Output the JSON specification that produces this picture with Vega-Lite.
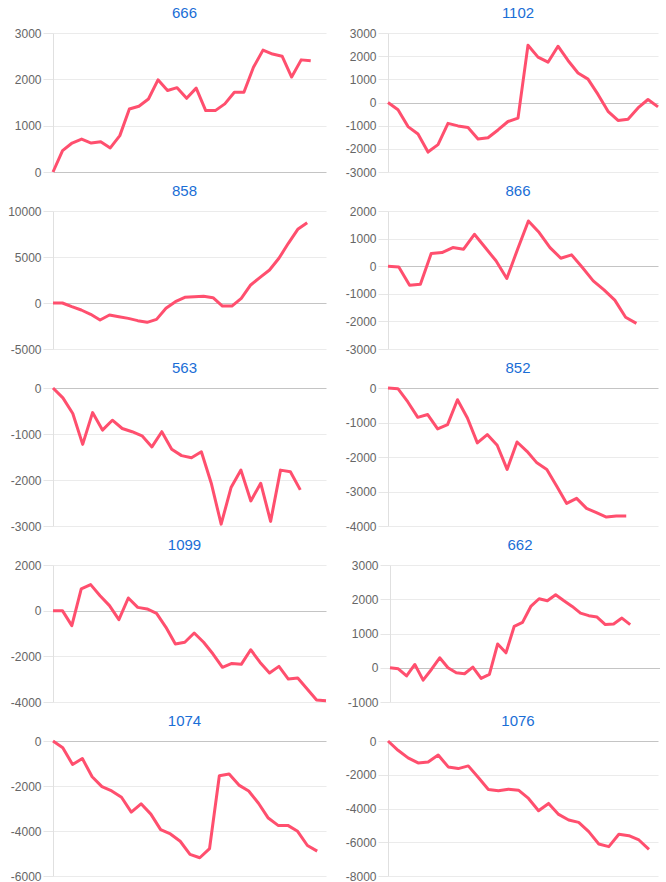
{
  "$schema": "https://vega.github.io/schema/vega-lite/v6.json",
  "padding": {"left": 7, "top": 6, "right": 0, "bottom": 0},
  "background": "white",
  "datasets": {
    "p666": [{"i":0,"v":0},{"i":1,"v":460},{"i":2,"v":625},{"i":3,"v":710},{"i":4,"v":625},{"i":5,"v":655},{"i":6,"v":520},{"i":7,"v":785},{"i":8,"v":1360},{"i":9,"v":1420},{"i":10,"v":1575},{"i":11,"v":1990},{"i":12,"v":1760},{"i":13,"v":1820},{"i":14,"v":1590},{"i":15,"v":1810},{"i":16,"v":1325},{"i":17,"v":1325},{"i":18,"v":1470},{"i":19,"v":1720},{"i":20,"v":1720},{"i":21,"v":2260},{"i":22,"v":2630},{"i":23,"v":2545},{"i":24,"v":2500},{"i":25,"v":2050},{"i":26,"v":2420},{"i":27,"v":2400}],
    "p1102": [{"i":0,"v":0},{"i":1,"v":-310},{"i":2,"v":-1040},{"i":3,"v":-1360},{"i":4,"v":-2140},{"i":5,"v":-1820},{"i":6,"v":-900},{"i":7,"v":-1010},{"i":8,"v":-1080},{"i":9,"v":-1580},{"i":10,"v":-1520},{"i":11,"v":-1185},{"i":12,"v":-820},{"i":13,"v":-675},{"i":14,"v":2475},{"i":15,"v":1960},{"i":16,"v":1740},{"i":17,"v":2430},{"i":18,"v":1815},{"i":19,"v":1275},{"i":20,"v":1010},{"i":21,"v":350},{"i":22,"v":-380},{"i":23,"v":-775},{"i":24,"v":-720},{"i":25,"v":-235},{"i":26,"v":130},{"i":27,"v":-190}],
    "p858": [{"i":0,"v":0},{"i":1,"v":0},{"i":2,"v":-400},{"i":3,"v":-760},{"i":4,"v":-1230},{"i":5,"v":-1850},{"i":6,"v":-1300},{"i":7,"v":-1490},{"i":8,"v":-1670},{"i":9,"v":-1920},{"i":10,"v":-2100},{"i":11,"v":-1780},{"i":12,"v":-580},{"i":13,"v":145},{"i":14,"v":620},{"i":15,"v":690},{"i":16,"v":725},{"i":17,"v":580},{"i":18,"v":-330},{"i":19,"v":-330},{"i":20,"v":510},{"i":21,"v":1960},{"i":22,"v":2790},{"i":23,"v":3590},{"i":24,"v":4860},{"i":25,"v":6490},{"i":26,"v":8010},{"i":27,"v":8730}],
    "p866": [{"i":0,"v":0},{"i":1,"v":-25},{"i":2,"v":-690},{"i":3,"v":-650},{"i":4,"v":460},{"i":5,"v":495},{"i":6,"v":675},{"i":7,"v":615},{"i":8,"v":1155},{"i":9,"v":675},{"i":10,"v":195},{"i":11,"v":-445},{"i":12,"v":615},{"i":13,"v":1640},{"i":14,"v":1220},{"i":15,"v":675},{"i":16,"v":290},{"i":17,"v":410},{"i":18,"v":-50},{"i":19,"v":-530},{"i":20,"v":-860},{"i":21,"v":-1230},{"i":22,"v":-1850},{"i":23,"v":-2070}],
    "p563": [{"i":0,"v":0},{"i":1,"v":-215},{"i":2,"v":-555},{"i":3,"v":-1225},{"i":4,"v":-535},{"i":5,"v":-915},{"i":6,"v":-700},{"i":7,"v":-880},{"i":8,"v":-950},{"i":9,"v":-1040},{"i":10,"v":-1280},{"i":11,"v":-950},{"i":12,"v":-1330},{"i":13,"v":-1470},{"i":14,"v":-1515},{"i":15,"v":-1385},{"i":16,"v":-2070},{"i":17,"v":-2960},{"i":18,"v":-2165},{"i":19,"v":-1785},{"i":20,"v":-2455},{"i":21,"v":-2070},{"i":22,"v":-2900},{"i":23,"v":-1785},{"i":24,"v":-1820},{"i":25,"v":-2215}],
    "p852": [{"i":0,"v":0},{"i":1,"v":-20},{"i":2,"v":-405},{"i":3,"v":-850},{"i":4,"v":-770},{"i":5,"v":-1185},{"i":6,"v":-1060},{"i":7,"v":-340},{"i":8,"v":-870},{"i":9,"v":-1590},{"i":10,"v":-1350},{"i":11,"v":-1660},{"i":12,"v":-2360},{"i":13,"v":-1565},{"i":14,"v":-1835},{"i":15,"v":-2170},{"i":16,"v":-2360},{"i":17,"v":-2845},{"i":18,"v":-3345},{"i":19,"v":-3200},{"i":20,"v":-3490},{"i":21,"v":-3615},{"i":22,"v":-3740},{"i":23,"v":-3710},{"i":24,"v":-3710}],
    "p1099": [{"i":0,"v":0},{"i":1,"v":0},{"i":2,"v":-655},{"i":3,"v":950},{"i":4,"v":1140},{"i":5,"v":655},{"i":6,"v":220},{"i":7,"v":-395},{"i":8,"v":555},{"i":9,"v":145},{"i":10,"v":75},{"i":11,"v":-115},{"i":12,"v":-730},{"i":13,"v":-1460},{"i":14,"v":-1385},{"i":15,"v":-980},{"i":16,"v":-1385},{"i":17,"v":-1900},{"i":18,"v":-2480},{"i":19,"v":-2310},{"i":20,"v":-2350},{"i":21,"v":-1710},{"i":22,"v":-2265},{"i":23,"v":-2730},{"i":24,"v":-2440},{"i":25,"v":-2995},{"i":26,"v":-2950},{"i":27,"v":-3430},{"i":28,"v":-3910},{"i":29,"v":-3940}],
    "p662": [{"i":0,"v":0},{"i":1,"v":-30},{"i":2,"v":-240},{"i":3,"v":95},{"i":4,"v":-360},{"i":5,"v":-50},{"i":6,"v":290},{"i":7,"v":0},{"i":8,"v":-145},{"i":9,"v":-175},{"i":10,"v":20},{"i":11,"v":-310},{"i":12,"v":-195},{"i":13,"v":695},{"i":14,"v":435},{"i":15,"v":1210},{"i":16,"v":1325},{"i":17,"v":1790},{"i":18,"v":2015},{"i":19,"v":1955},{"i":20,"v":2130},{"i":21,"v":1955},{"i":22,"v":1790},{"i":23,"v":1595},{"i":24,"v":1520},{"i":25,"v":1480},{"i":26,"v":1260},{"i":27,"v":1280},{"i":28,"v":1450},{"i":29,"v":1260}],
    "p1074": [{"i":0,"v":0},{"i":1,"v":-295},{"i":2,"v":-1045},{"i":3,"v":-780},{"i":4,"v":-1590},{"i":5,"v":-2030},{"i":6,"v":-2220},{"i":7,"v":-2500},{"i":8,"v":-3160},{"i":9,"v":-2790},{"i":10,"v":-3250},{"i":11,"v":-3940},{"i":12,"v":-4130},{"i":13,"v":-4455},{"i":14,"v":-5040},{"i":15,"v":-5190},{"i":16,"v":-4780},{"i":17,"v":-1545},{"i":18,"v":-1470},{"i":19,"v":-1960},{"i":20,"v":-2220},{"i":21,"v":-2765},{"i":22,"v":-3425},{"i":23,"v":-3750},{"i":24,"v":-3750},{"i":25,"v":-4015},{"i":26,"v":-4645},{"i":27,"v":-4895}],
    "p1076": [{"i":0,"v":0},{"i":1,"v":-550},{"i":2,"v":-1000},{"i":3,"v":-1300},{"i":4,"v":-1240},{"i":5,"v":-830},{"i":6,"v":-1535},{"i":7,"v":-1635},{"i":8,"v":-1475},{"i":9,"v":-2165},{"i":10,"v":-2875},{"i":11,"v":-2950},{"i":12,"v":-2855},{"i":13,"v":-2915},{"i":14,"v":-3405},{"i":15,"v":-4135},{"i":16,"v":-3700},{"i":17,"v":-4350},{"i":18,"v":-4685},{"i":19,"v":-4820},{"i":20,"v":-5370},{"i":21,"v":-6100},{"i":22,"v":-6260},{"i":23,"v":-5530},{"i":24,"v":-5610},{"i":25,"v":-5865},{"i":26,"v":-6420}]
  },
  "config": {
    "view": {"stroke": null},
    "axis": {"labelColor": "#666666", "labelFont": "Liberation Sans", "labelFontSize": 12, "labelPadding": 2, "tickSize": 10, "tickColor": "#e6e6e6", "domainColor": "#e0e0e0", "labelFlush": false, "labelOverlap": false},
    "title": {"fontSize": 15, "font": "Liberation Sans", "fontWeight": "normal", "color": "#1a6ed6", "frame": "group", "dx": -5, "offset": 6},
    "line": {"color": "#ff4f6e", "strokeWidth": 3, "strokeJoin": "round"}
  },
  "vconcat": [
    {"hconcat": [
      {"title": "666", "width": 273, "height": 139, "data": {"name": "p666"}, "mark": {"type": "line"},
       "encoding": {"x": {"field": "i", "type": "quantitative", "axis": null, "scale": {"domain": [0, 28.6], "nice": false, "zero": false}},
                    "y": {"field": "v", "type": "quantitative", "scale": {"domain": [0, 3000], "nice": false, "zero": false}, "axis": {"title": null, "values": [0, 1000, 2000, 3000], "labelExpr": "'' + datum.value", "gridColor": {"condition": {"test": "datum.value === 0", "value": "#c4c4c4"}, "value": "#ebebeb"}}}}},
      {"title": "1102", "width": 270, "height": 139, "data": {"name": "p1102"}, "mark": {"type": "line"},
       "encoding": {"x": {"field": "i", "type": "quantitative", "axis": null, "scale": {"domain": [0, 27], "nice": false, "zero": false}},
                    "y": {"field": "v", "type": "quantitative", "scale": {"domain": [-3000, 3000], "nice": false, "zero": false}, "axis": {"title": null, "values": [-3000, -2000, -1000, 0, 1000, 2000, 3000], "labelExpr": "'' + datum.value", "gridColor": {"condition": {"test": "datum.value === 0", "value": "#c4c4c4"}, "value": "#ebebeb"}}}}}
    ], "spacing": 19},
    {"hconcat": [
      {"title": "858", "width": 273, "height": 138, "data": {"name": "p858"}, "mark": {"type": "line"},
       "encoding": {"x": {"field": "i", "type": "quantitative", "axis": null, "scale": {"domain": [0, 29], "nice": false, "zero": false}},
                    "y": {"field": "v", "type": "quantitative", "scale": {"domain": [-5000, 10000], "nice": false, "zero": false}, "axis": {"title": null, "values": [-5000, 0, 5000, 10000], "labelExpr": "'' + datum.value", "gridColor": {"condition": {"test": "datum.value === 0", "value": "#c4c4c4"}, "value": "#ebebeb"}}}}},
      {"title": "866", "width": 270, "height": 138, "data": {"name": "p866"}, "mark": {"type": "line"},
       "encoding": {"x": {"field": "i", "type": "quantitative", "axis": null, "scale": {"domain": [0, 25], "nice": false, "zero": false}},
                    "y": {"field": "v", "type": "quantitative", "scale": {"domain": [-3000, 2000], "nice": false, "zero": false}, "axis": {"title": null, "values": [-3000, -2000, -1000, 0, 1000, 2000], "labelExpr": "'' + datum.value", "gridColor": {"condition": {"test": "datum.value === 0", "value": "#c4c4c4"}, "value": "#ebebeb"}}}}}
    ], "spacing": 19},
    {"hconcat": [
      {"title": "563", "width": 273, "height": 138, "data": {"name": "p563"}, "mark": {"type": "line"},
       "encoding": {"x": {"field": "i", "type": "quantitative", "axis": null, "scale": {"domain": [0, 27.6], "nice": false, "zero": false}},
                    "y": {"field": "v", "type": "quantitative", "scale": {"domain": [-3000, 0], "nice": false, "zero": false}, "axis": {"title": null, "values": [-3000, -2000, -1000, 0], "labelExpr": "'' + datum.value", "gridColor": {"condition": {"test": "datum.value === 0", "value": "#c4c4c4"}, "value": "#ebebeb"}}}}},
      {"title": "852", "width": 270, "height": 138, "data": {"name": "p852"}, "mark": {"type": "line"},
       "encoding": {"x": {"field": "i", "type": "quantitative", "axis": null, "scale": {"domain": [0, 27.2], "nice": false, "zero": false}},
                    "y": {"field": "v", "type": "quantitative", "scale": {"domain": [-4000, 0], "nice": false, "zero": false}, "axis": {"title": null, "values": [-4000, -3000, -2000, -1000, 0], "labelExpr": "'' + datum.value", "gridColor": {"condition": {"test": "datum.value === 0", "value": "#c4c4c4"}, "value": "#ebebeb"}}}}}
    ], "spacing": 19},
    {"hconcat": [
      {"title": "1099", "width": 273, "height": 137, "data": {"name": "p1099"}, "mark": {"type": "line"},
       "encoding": {"x": {"field": "i", "type": "quantitative", "axis": null, "scale": {"domain": [0, 29], "nice": false, "zero": false}},
                    "y": {"field": "v", "type": "quantitative", "scale": {"domain": [-4000, 2000], "nice": false, "zero": false}, "axis": {"title": null, "values": [-4000, -2000, 0, 2000], "labelExpr": "'' + datum.value", "gridColor": {"condition": {"test": "datum.value === 0", "value": "#c4c4c4"}, "value": "#ebebeb"}}}}},
      {"title": "662", "width": 270, "height": 137, "data": {"name": "p662"}, "mark": {"type": "line"},
       "encoding": {"x": {"field": "i", "type": "quantitative", "axis": null, "scale": {"domain": [0, 32.6], "nice": false, "zero": false}},
                    "y": {"field": "v", "type": "quantitative", "scale": {"domain": [-1000, 3000], "nice": false, "zero": false}, "axis": {"title": null, "values": [-1000, 0, 1000, 2000, 3000], "labelExpr": "'' + datum.value", "gridColor": {"condition": {"test": "datum.value === 0", "value": "#c4c4c4"}, "value": "#ebebeb"}}}}}
    ], "spacing": 19},
    {"hconcat": [
      {"title": "1074", "width": 273, "height": 135, "data": {"name": "p1074"}, "mark": {"type": "line"},
       "encoding": {"x": {"field": "i", "type": "quantitative", "axis": null, "scale": {"domain": [0, 27.9], "nice": false, "zero": false}},
                    "y": {"field": "v", "type": "quantitative", "scale": {"domain": [-6000, 0], "nice": false, "zero": false}, "axis": {"title": null, "values": [-6000, -4000, -2000, 0], "labelExpr": "'' + datum.value", "gridColor": {"condition": {"test": "datum.value === 0", "value": "#c4c4c4"}, "value": "#ebebeb"}}}}},
      {"title": "1076", "width": 270, "height": 135, "data": {"name": "p1076"}, "mark": {"type": "line"},
       "encoding": {"x": {"field": "i", "type": "quantitative", "axis": null, "scale": {"domain": [0, 26.9], "nice": false, "zero": false}},
                    "y": {"field": "v", "type": "quantitative", "scale": {"domain": [-8000, 0], "nice": false, "zero": false}, "axis": {"title": null, "values": [-8000, -6000, -4000, -2000, 0], "labelExpr": "'' + datum.value", "gridColor": {"condition": {"test": "datum.value === 0", "value": "#c4c4c4"}, "value": "#ebebeb"}}}}}
    ], "spacing": 19}
  ],
  "spacing": 6
}
